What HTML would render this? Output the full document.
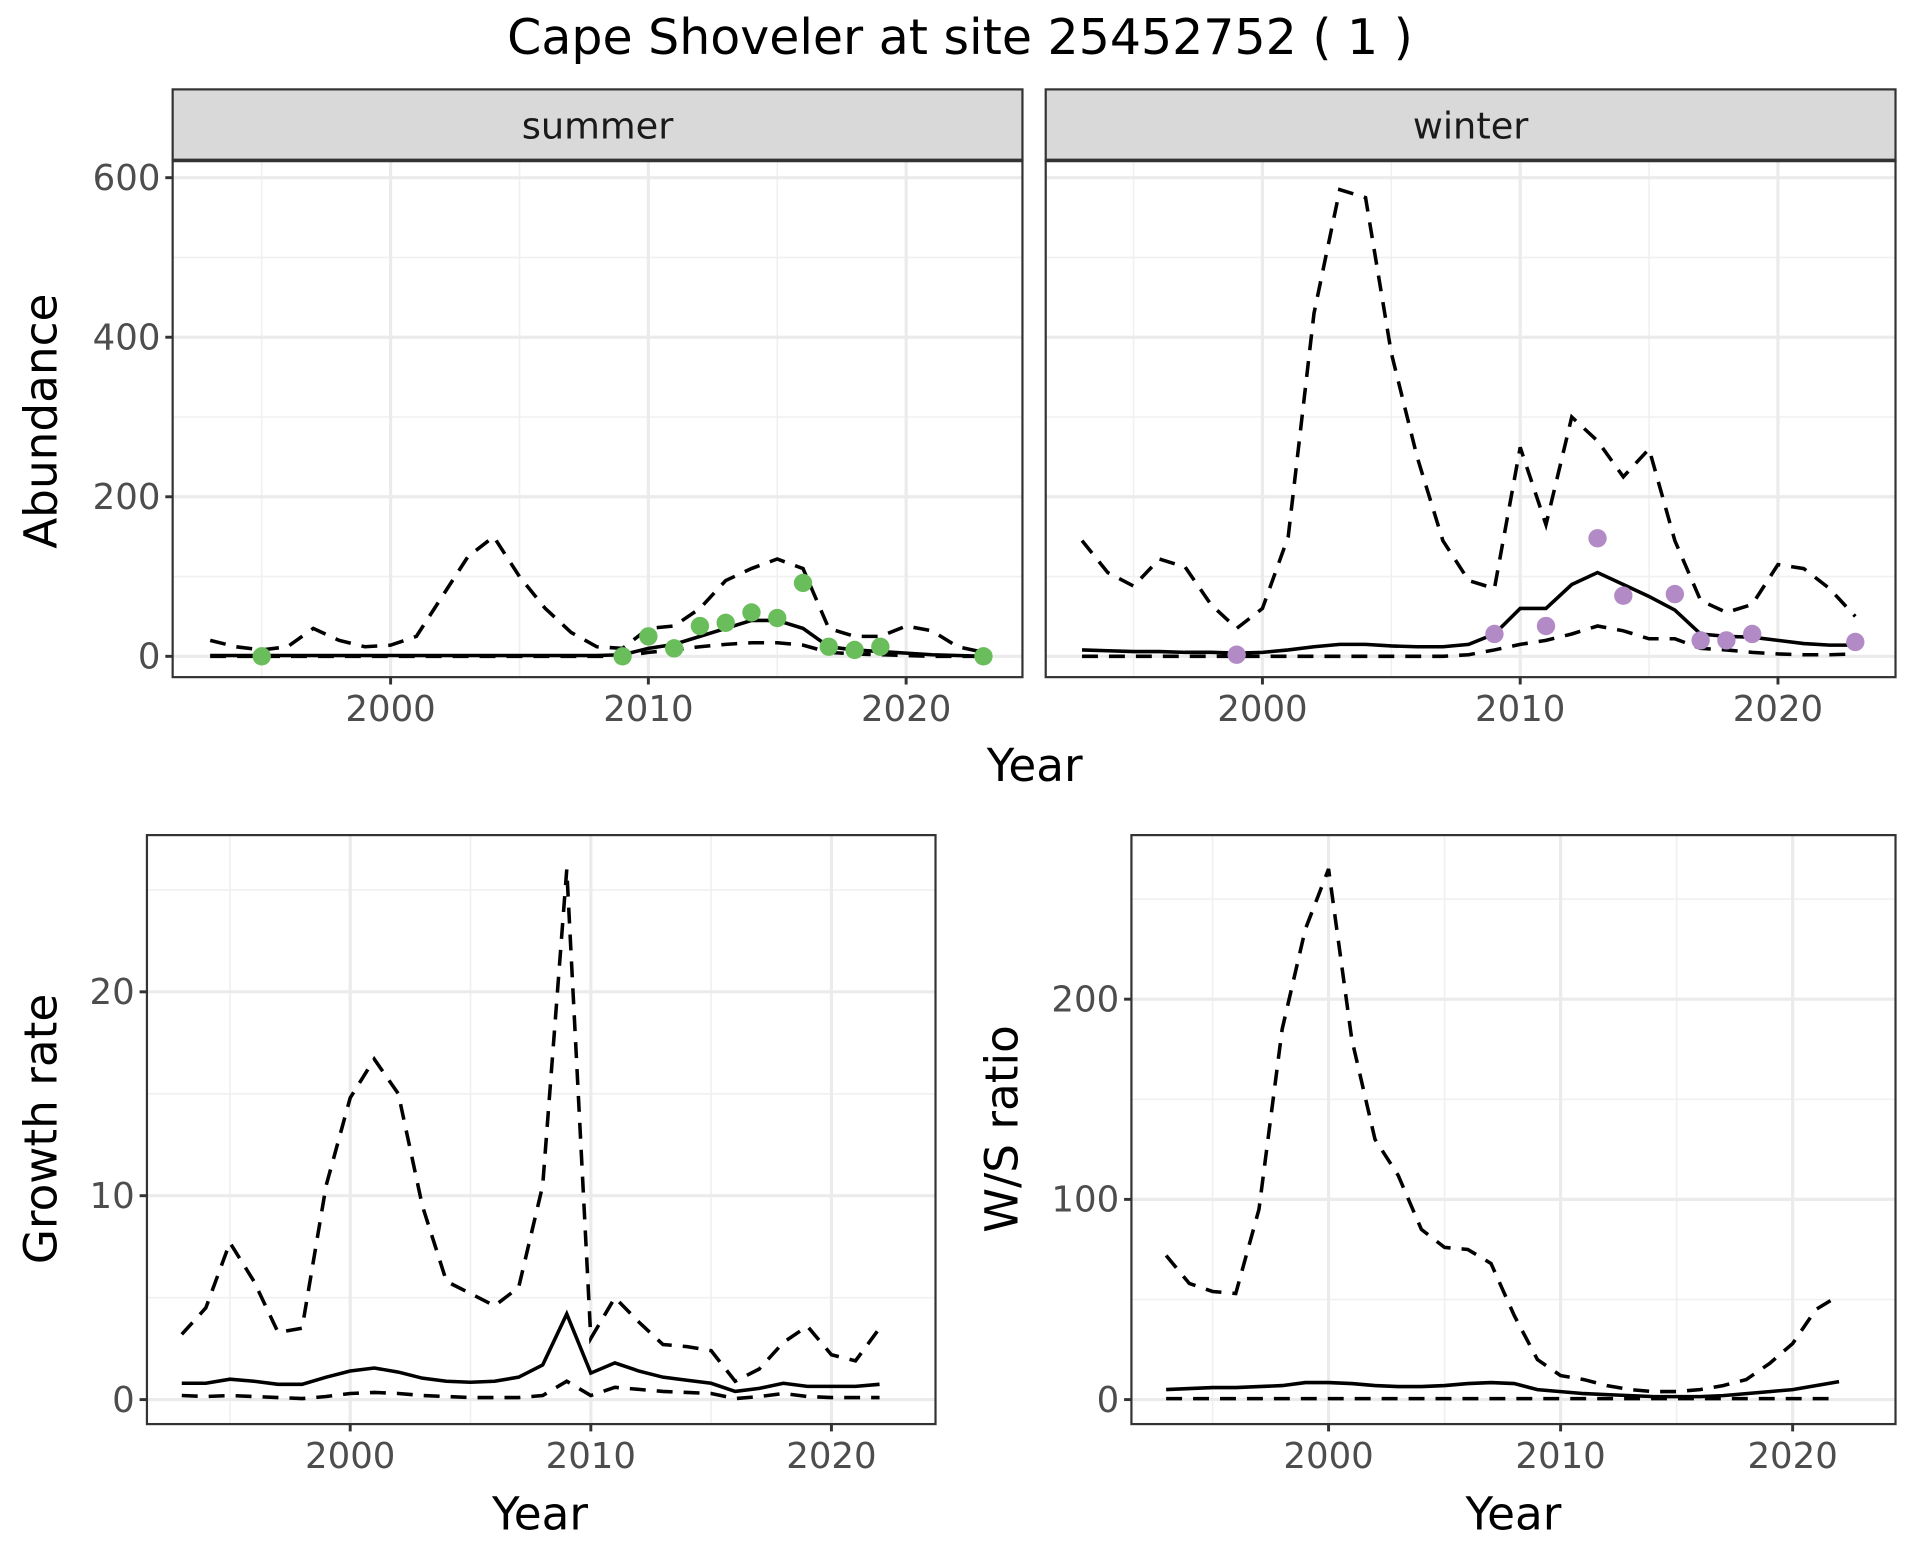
<!DOCTYPE html>
<html><head><meta charset="utf-8"><style>
html,body{margin:0;padding:0;background:#fff;}
svg{display:block;font-family:"DejaVu Sans","Liberation Sans",sans-serif;}
</style></head><body>
<svg id="chart" width="1920" height="1560" viewBox="0 0 1568 1274" preserveAspectRatio="none">
<rect width="1568" height="1274" fill="#fff"/>
<text x="784" y="44" font-size="40" text-anchor="middle" fill="#000">Cape Shoveler at site 25452752 ( 1 )</text>
</svg>
<script>
const yearsA = [1993,1994,1995,1996,1997,1998,1999,2000,2001,2002,2003,2004,2005,2006,2007,2008,2009,2010,2011,2012,2013,2014,2015,2016,2017,2018,2019,2020,2021,2022,2023];
const summerUpper = [20,12,8,12,35,20,12,14,25,75,125,150,100,60,30,12,10,35,38,60,95,110,122,110,35,25,25,38,32,12,5];
const summerMean = [1,1,1,1,1,1,1,1,1,1,1,1,1,1,1,1,2,10,15,25,35,45,45,35,12,8,6,4,2,1,0];
const summerLower = [0,0,0,0,0,0,0,0,0,0,0,0,0,0,0,0,0,5,8,12,15,17,17,14,5,3,2,1,0,0,0];
const summerPtYears = [1995,2009,2010,2011,2012,2013,2014,2015,2016,2017,2018,2019,2023];
const summerPts = [0,0,25,10,38,42,55,48,92,12,8,12,0];
const winterUpper = [145,105,88,122,112,65,35,60,150,430,585,575,380,250,145,95,85,262,165,300,270,225,260,145,70,55,65,115,110,85,50];
const winterMean = [8,7,6,6,5,5,4,5,8,12,15,15,13,12,12,15,28,60,60,90,105,90,75,58,28,25,24,20,16,14,14];
const winterLower = [0,0,0,0,0,0,0,0,0,0,0,0,0,0,0,2,8,15,20,28,38,32,22,22,10,8,5,3,2,2,3];
const winterPtYears = [1999,2009,2011,2013,2014,2016,2017,2018,2019,2023];
const winterPts = [2,28,38,148,76,78,20,20,28,18];
const yearsB = [1993,1994,1995,1996,1997,1998,1999,2000,2001,2002,2003,2004,2005,2006,2007,2008,2009,2010,2011,2012,2013,2014,2015,2016,2017,2018,2019,2020,2021,2022];
const growthUpper = [3.2,4.5,7.7,5.8,3.3,3.5,10.5,14.8,16.7,15,9.5,5.8,5.2,4.6,5.5,10.5,26,3,5,3.8,2.7,2.6,2.4,0.9,1.5,2.8,3.6,2.2,1.9,3.5];
const growthMean = [0.8,0.8,1,0.9,0.75,0.75,1.1,1.4,1.55,1.35,1.05,0.9,0.85,0.9,1.1,1.7,4.2,1.3,1.8,1.4,1.1,0.95,0.8,0.4,0.55,0.8,0.65,0.65,0.65,0.75];
const growthLower = [0.2,0.15,0.2,0.15,0.1,0.05,0.15,0.3,0.35,0.3,0.2,0.15,0.1,0.1,0.1,0.2,0.9,0.2,0.6,0.5,0.4,0.35,0.3,0.05,0.15,0.3,0.15,0.1,0.1,0.1];
const ratioUpper = [72,58,54,53,95,185,235,265,180,130,112,85,76,75,68,42,20,12,10,7,5,4,4,5,7,10,18,28,45,52];
const ratioMean = [5,5.5,6,6,6.5,7,8.5,8.5,8,7,6.5,6.5,7,8,8.5,8,5,4,3,2.5,2,1.5,1.5,1.5,2,3,4,5,7,9];
const ratioLower = [0.5,0.5,0.5,0.5,0.5,0.5,0.5,0.5,0.5,0.5,0.5,0.5,0.5,0.5,0.5,0.5,0.5,0.5,0.5,0.5,0.5,0.5,0.5,0.5,0.5,0.5,0.5,0.5,0.5,0.5];
const xTicks = [2000,2010,2020];
const xMinor = [1995,2005,2015];
const abTicks = [0,200,400,600];
const abMinor = [100,300,500];
const grTicks = [0,10,20];
const grMinor = [5,15,25];
const raTicks = [0,100,200];
const raMinor = [50,150,250];

const svg = document.getElementById('chart');
const NS = 'http://www.w3.org/2000/svg';
function mk(tag, attrs, parent){
  const e = document.createElementNS(NS, tag);
  for (const k in attrs) e.setAttribute(k, attrs[k]);
  (parent||svg).appendChild(e);
  return e;
}
function panel(o){
  const g = mk('g', {});
  
  
  const sx = v => o.x0 + (v - 2000) * o.px;
  const sy = v => o.y0 - v * o.py;
  mk('rect', {x:o.l, y:o.t, width:o.r-o.l, height:o.b-o.t, fill:'#fff'}, g);
  o.yMinor.forEach(v => mk('line', {x1:o.l, x2:o.r, y1:sy(v), y2:sy(v), stroke:'#f0f0f0', 'stroke-width':1.3}, g));
  xMinor.forEach(v => mk('line', {x1:sx(v), x2:sx(v), y1:o.t, y2:o.b, stroke:'#f0f0f0', 'stroke-width':1.3}, g));
  o.yTicks.forEach(v => mk('line', {x1:o.l, x2:o.r, y1:sy(v), y2:sy(v), stroke:'#ebebeb', 'stroke-width':2.6}, g));
  xTicks.forEach(v => mk('line', {x1:sx(v), x2:sx(v), y1:o.t, y2:o.b, stroke:'#ebebeb', 'stroke-width':2.6}, g));
  const line = (ys, vals, dash, nm) => {
    const p = mk('polyline', {points: ys.map((y,i)=>sx(y)+','+sy(vals[i])).join(' '), fill:'none', stroke:'#000', 'stroke-width':2.9, 'stroke-dasharray':dash||'none'}, g);
    
    
  };
  line(o.years, o.upper, '13,9', 'upper-bound-line');
  line(o.years, o.lower, '13,9', 'lower-bound-line');
  line(o.years, o.mean, null, 'mean-line');
  if (o.pts) o.ptYears.forEach((y,i) => {
    const c = mk('circle', {cx:sx(y), cy:sy(o.pts[i]), r:7.5, fill:o.color}, g);
    
    
  });
  mk('rect', {x:o.l, y:o.t, width:o.r-o.l, height:o.b-o.t, fill:'none', stroke:'#333', 'stroke-width':1.8}, g);
  if (o.showY) o.yTicks.forEach(v => {
    mk('line', {x1:o.l-6, x2:o.l, y1:sy(v), y2:sy(v), stroke:'#333', 'stroke-width':2.4}, g);
    const t = mk('text', {x:o.l-10, y:sy(v)+10, 'font-size':29, 'text-anchor':'end', fill:'#4d4d4d'}, g);
    t.textContent = v;
    
    
  });
  xTicks.forEach(v => {
    mk('line', {x1:sx(v), x2:sx(v), y1:o.b, y2:o.b+6, stroke:'#333', 'stroke-width':2.4}, g);
    const t = mk('text', {x:sx(v), y:o.b+36, 'font-size':29, 'text-anchor':'middle', fill:'#4d4d4d'}, g);
    t.textContent = v;
    
    
  });
  if (o.strip) {
    mk('rect', {x:o.l, y:73, width:o.r-o.l, height:o.t-73, fill:'#d9d9d9', stroke:'#333', 'stroke-width':1.8}, g);
    mk('line', {x1:o.l, x2:o.r, y1:o.t, y2:o.t, stroke:'#333', 'stroke-width':3}, g);
    const t = mk('text', {x:(o.l+o.r)/2, y:113, 'font-size':30, 'text-anchor':'middle', fill:'#1a1a1a'}, g);
    t.textContent = o.strip;
    
    
  }
}
panel({name:'summer-panel', l:141, r:835, t:131, b:553, x0:319, px:21.05, y0:536, py:130.3/200, years:yearsA, upper:summerUpper, mean:summerMean, lower:summerLower, ptYears:summerPtYears, pts:summerPts, color:'#6abd5b', yTicks:abTicks, yMinor:abMinor, showY:true, strip:'summer'});
panel({name:'winter-panel', l:854, r:1548, t:131, b:553, x0:1031, px:21.05, y0:536, py:130.3/200, years:yearsA, upper:winterUpper, mean:winterMean, lower:winterLower, ptYears:winterPtYears, pts:winterPts, color:'#b18ac6', yTicks:abTicks, yMinor:abMinor, showY:false, strip:'winter'});
panel({name:'growth-rate-panel', l:120, r:764, t:682, b:1163, x0:286, px:19.65, y0:1143, py:16.65, years:yearsB, upper:growthUpper, mean:growthMean, lower:growthLower, yTicks:grTicks, yMinor:grMinor, showY:true});
panel({name:'ws-ratio-panel', l:924, r:1548, t:682, b:1163, x0:1085, px:18.95, y0:1143, py:1.635, years:yearsB, upper:ratioUpper, mean:ratioMean, lower:ratioLower, yTicks:raTicks, yMinor:raMinor, showY:true});
function label(txt, x, y, rot, nm){
  const t = mk('text', {x:x, y:y, 'font-size':37, 'text-anchor':'middle', fill:'#000', transform: rot ? 'rotate(-90 '+x+' '+y+')' : ''});
  t.textContent = txt;
  
  
}
label('Year', 845, 638, false, 'top-x-axis-title');
label('Abundance', 46, 344, true, 'abundance-y-axis-title');
label('Year', 441, 1249, false, 'growth-x-axis-title');
label('Growth rate', 46, 922, true, 'growth-y-axis-title');
label('Year', 1236, 1249, false, 'ratio-x-axis-title');
label('W/S ratio', 831, 922, true, 'ratio-y-axis-title');
</script>
</body></html>
